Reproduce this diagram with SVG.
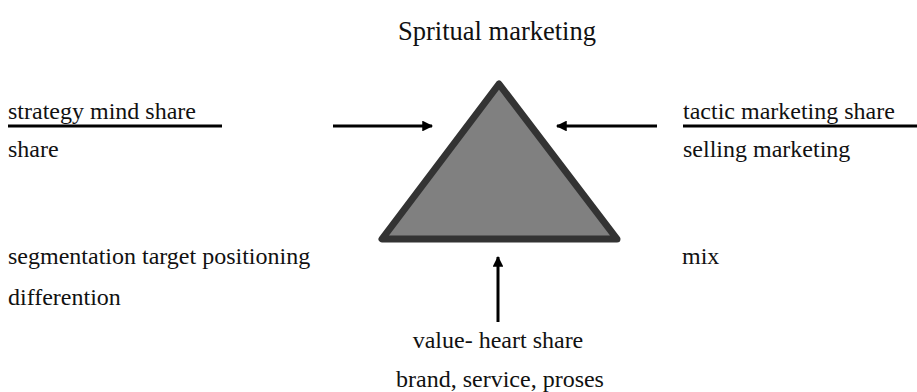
<svg xmlns="http://www.w3.org/2000/svg" width="917" height="392" viewBox="0 0 917 392">
<style>
.t{font-family:'Liberation Serif','Times New Roman',serif;fill:#111;font-size:24px}
.title{font-size:26.5px}
.rule{stroke:#000;stroke-width:3}
.conn{stroke:#000;stroke-width:3;fill:none;marker-end:url(#ah)}
</style>
<defs>
<marker id="ah" viewBox="0 0 10 10" refX="9" refY="5" markerWidth="5" markerHeight="3.6" orient="auto" markerUnits="strokeWidth">
<path d="M0,0 L10,5 L0,10 z" fill="#000"/>
</marker>
</defs>
<rect width="917" height="392" fill="#fff"/>
<text class="t title" x="497" y="40" text-anchor="middle">Spritual marketing</text>
<g id="triangle">
<polygon points="499,84 382,239 617,239" fill="#808080" stroke="#333" stroke-width="7" stroke-linejoin="round"/>
</g>
<g id="left">
<text class="t" x="8" y="119">strategy mind share</text>
<line class="rule" x1="8" y1="126" x2="222" y2="126"/>
<text class="t" x="8" y="157">share</text>
</g>
<g id="right">
<text class="t" x="683" y="119">tactic marketing share</text>
<line class="rule" x1="683" y1="126" x2="917" y2="126"/>
<text class="t" x="683" y="157">selling marketing</text>
</g>
<g id="bottom-left">
<text class="t" x="8" y="264">segmentation target positioning</text>
<text class="t" x="8" y="305">differention</text>
</g>
<g id="bottom-right">
<text class="t" x="682" y="264">mix</text>
</g>
<g id="bottom">
<text class="t" x="498" y="348" text-anchor="middle">value- heart share</text>
<text class="t" x="500" y="387" text-anchor="middle">brand, service, proses</text>
</g>
<g id="connectors">
<line class="conn" x1="333" y1="126" x2="432" y2="126"/>
<line class="conn" x1="657" y1="126" x2="557" y2="126"/>
<line class="conn" x1="498" y1="322" x2="498" y2="257"/>
</g>
</svg>
